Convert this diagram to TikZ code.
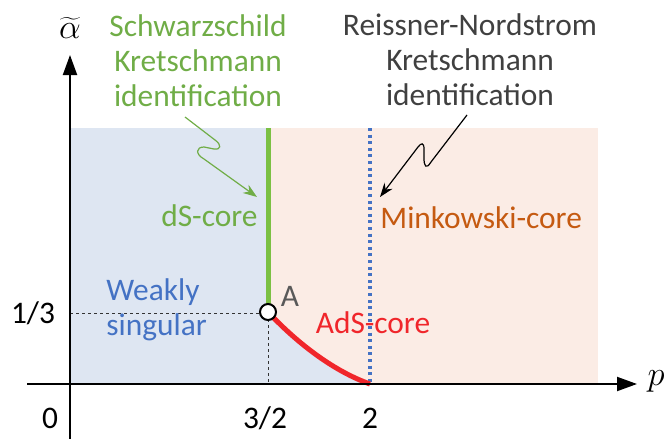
\documentclass[tikz,border=0pt]{standalone}
\usepackage{fontspec}
\setmainfont{Carlito}
\usetikzlibrary{arrows.meta}
\definecolor{bluefill}{HTML}{DEE6F2}
\definecolor{peachfill}{HTML}{FBECE5}
\definecolor{schwgreen}{HTML}{70AD47}
\definecolor{linegreen}{HTML}{7BC043}
\definecolor{adsred}{HTML}{F0262B}
\definecolor{minkorange}{HTML}{C55A11}
\definecolor{weakblue}{HTML}{4472C4}
\definecolor{dotblue}{HTML}{4472C4}
\definecolor{rngray}{HTML}{404040}
\definecolor{agray}{HTML}{595959}
\begin{document}
\begin{tikzpicture}[x=0.5pt, y=-0.5pt,
	lbl/.style={font=\fontsize{15.7}{17.6}\selectfont, align=center, inner sep=0pt},
	axis/.style={line width=1pt, -{Triangle[length=10pt, width=7pt]}},
	guide/.style={line width=0.5pt, dash pattern=on 1.5pt off 1.5pt, black!80}]
	\useasboundingbox (0,0) rectangle (670,439);
	
	% regions
	\fill[peachfill] (268,128) rectangle (598,384);
	\fill[bluefill] (70,128) rectangle (268,384);
	\fill[bluefill] (268,312) .. controls (300,346) and (336,372) .. (370,384) -- (268,384) -- cycle;
	
	\coordinate (o) at (70,384);
	\coordinate (xs) at (27,384);
	\coordinate (xe) at (637,384);
	\coordinate (ys) at (70,439);
	\coordinate (ye) at (70,55);
	\coordinate (top1) at (268,128);
	\coordinate (top2) at (370,128);
	\coordinate (bot2) at (370,384);
	\coordinate (h1) at (70,313);
	\coordinate (v1) at (268,384);
	
	% guide lines
	\draw[guide] (h1) -- (268,313) -- (v1);
	
	% lines of the diagram
	\draw[linegreen, line width=2.5pt] (top1) -- (268,305);
	\draw[dotblue, line width=1.7pt, dash pattern=on 1.5pt off 1.8pt] (top2) -- (bot2);
	\draw[adsred, line width=2.5pt] (268,312) .. controls (300,346) and (336,372) .. (bot2);
	
	% axes
	\draw[axis] (xs) -- (xe);
	\draw[axis] (ys) -- (ye);
	
	\node (z0)[shape=circle, draw, line width=1pt, fill=white, minimum size=8pt, inner sep=0pt] 
	at (268,312) {};
	
	\node (z1)[lbl, text=schwgreen] 
	at (198,61){
		Schwarzschild \\
		Kretschmann \\
		identification
	};
	
	\node (z2)[lbl, text=rngray] 
	at (470,60){
		Reissner-Nordstrom \\
		Kretschmann \\
		identification
	};
	
	\node (z3)[lbl, text=schwgreen, anchor=east] at (258,216) {dS-core};
	\node (z4)[lbl, text=minkorange, anchor=west] at (380,218) {Minkowski-core};
	\node (z5)[lbl, text=adsred] at (373,323) {AdS-core};
	\node (z6)[lbl, text=weakblue, align=left, anchor=west] 
	at (106,310){
		Weakly \\
		singular
	};
	\node (z7)[lbl, text=agray] at (290,296) {A};
	
	% ticks
	\node (t1)[lbl] at (33,313) {1/3};
	\node (t2)[lbl] at (50,418) {0};
	\node (t3)[lbl] at (265,418) {3/2};
	\node (t4)[lbl] at (370,418) {2};
	\node (ax1)[inner sep=0pt] at (70,28) {\fontsize{17}{20}\selectfont$\widetilde{\alpha}$};
	\node (ax2)[inner sep=0pt] at (656,381) {\fontsize{17}{20}\selectfont$p$};
	
	% identification arrows
	\coordinate (g1) at (185,117);
	\coordinate (g2) at (257,197);
	\coordinate (b1) at (467,115);
	\coordinate (b2) at (380,197);
	\draw[schwgreen, line width=0.6pt, -{Stealth[length=7pt, width=5pt]}] 
	(g1) -- (215,140) .. controls (222,145) and (221,150) .. (214,149)
	-- (204,147) .. controls (196,147) and (195,154) .. (204,159) -- (g2);
	\draw[black, line width=0.6pt, -{Stealth[length=7pt, width=5pt]}] 
	(b1) -- (431,162) .. controls (426,170) and (424,166) .. (424,158)
	-- (424,149) .. controls (424,142) and (421,143) .. (418,147) -- (b2);
\end{tikzpicture}
\end{document}
